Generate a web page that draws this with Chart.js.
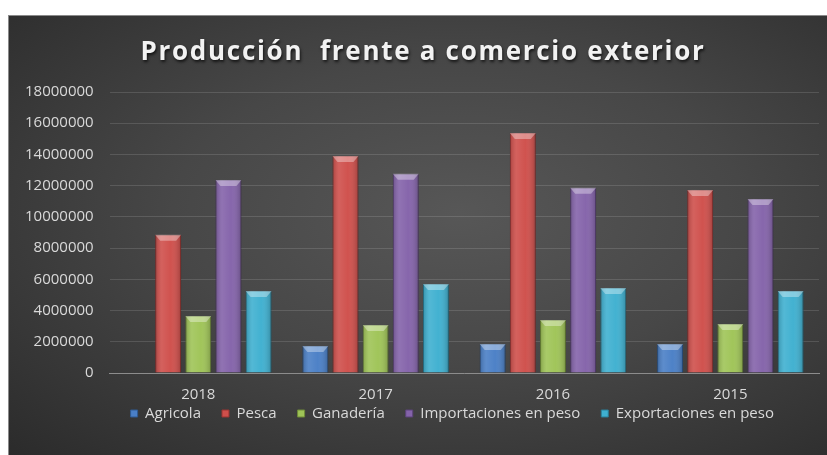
<!DOCTYPE html>
<html>
<head>
<meta charset="utf-8">
<script src="https://cdn.jsdelivr.net/npm/chart.js@4"></script>
<style>
  html, body { margin: 0; padding: 0; background: #ffffff; }
  #box {
    position: absolute; left: 8px; top: 15px; width: 819px; height: 440px;
    background: radial-gradient(ellipse at 55% 45%, #575757 0%, #474747 45%, #2b2b2b 100%);
    border-top: 1px solid #8a8a8a; border-left: 1px solid #8a8a8a;
    box-sizing: border-box;
  }
</style>
</head>
<body>
<div id="box"><canvas id="myChart"></canvas></div>
<script>
const years = ['2018', '2017', '2016', '2015'];
const agricola = [0, 1730000, 1860000, 1860000];
const pesca = [8850000, 13900000, 15380000, 11730000];
const ganaderia = [3650000, 3080000, 3400000, 3140000];
const importaciones = [12370000, 12760000, 11860000, 11150000];
const exportaciones = [5260000, 5700000, 5450000, 5260000];
const yTicks = [0, 2000000, 4000000, 6000000, 8000000, 10000000, 12000000, 14000000, 16000000, 18000000];
const titulo = 'Producción  frente a comercio exterior';

let myChart = document.getElementById('myChart').getContext('2d');

function serie(label, data, color, border) {
    return {
        label: label,
        data: data,
        backgroundColor: color,
        borderColor: border,
        borderWidth: 1,
        categoryPercentage: 0.85,
        barPercentage: 0.86
    };
}

// title drawn by hand: spaced letters and a soft shadow
const tituloPlugin = {
    id: 'tituloPlugin',
    afterDraw(chart) {
        const ctx = chart.ctx;
        ctx.save();
        ctx.font = 'bold 26px "Open Sans"';
        ctx.letterSpacing = '1.7px';
        ctx.fillStyle = '#f2f2f2';
        ctx.textAlign = 'center';
        ctx.textBaseline = 'alphabetic';
        ctx.shadowColor = 'rgba(0,0,0,0.7)';
        ctx.shadowOffsetX = 1;
        ctx.shadowOffsetY = 2;
        ctx.shadowBlur = 3;
        ctx.fillText(titulo, chart.width / 2 + 5, 44);
        ctx.restore();
    }
};

// light bevel over each bar, taken from the bar elements
const bevelPlugin = {
    id: 'bevelPlugin',
    afterDatasetsDraw(chart) {
        const ctx = chart.ctx;
        chart.data.datasets.forEach((ds, i) => {
            chart.getDatasetMeta(i).data.forEach(bar => {
                const h = bar.base - bar.y;
                if (h < 2) return;
                const l = bar.x - bar.width / 2, r = bar.x + bar.width / 2;
                const g = ctx.createLinearGradient(l, 0, r, 0);
                g.addColorStop(0, 'rgba(0,0,0,0.18)');
                g.addColorStop(0.25, 'rgba(255,255,255,0.10)');
                g.addColorStop(0.6, 'rgba(255,255,255,0.02)');
                g.addColorStop(1, 'rgba(0,0,0,0.22)');
                ctx.save();
                ctx.fillStyle = g;
                ctx.fillRect(l, bar.y, bar.width, h);
                const cap = Math.min(6, h / 2);
                ctx.fillStyle = 'rgba(255,255,255,0.35)';
                ctx.beginPath();
                ctx.moveTo(l, bar.y);
                ctx.lineTo(r, bar.y);
                ctx.lineTo(r - 5, bar.y + cap);
                ctx.lineTo(l + 5, bar.y + cap);
                ctx.closePath();
                ctx.fill();
                ctx.restore();
            });
        });
    }
};

let newChart = new Chart(myChart, {
    type: 'bar',
    data: {
        labels: years,
        datasets: [
            serie('Agricola', agricola, '#4a7fc6', '#2f5a92'),
            serie('Pesca', pesca, '#cf4f4b', '#9a3432'),
            serie('Ganadería', ganaderia, '#9fc457', '#6f8c39'),
            serie('Importaciones en peso', importaciones, '#8463aa', '#5c437a'),
            serie('Exportaciones en peso', exportaciones, '#3fb0d0', '#2a7f98')
        ]
    },
    plugins: [tituloPlugin, bevelPlugin],
    options: {
        responsive: true,
        maintainAspectRatio: false,
        animation: false,
        layout: {
            padding: { top: 76, right: 8, bottom: 24, left: 0 }
        },
        scales: {
            x: {
                grid: { display: false },
                border: { color: '#8c8c8c', width: 1 },
                ticks: { color: '#d9d9d9', font: { family: 'Open Sans', size: 15 }, padding: 5 },
                afterFit: axis => {
                    axis.height -= 24;
                    // labels sit close to the legend, so do not clip them to the axis box
                    axis._computeLabelArea = () => undefined;
                }
            },
            y: {
                min: 0,
                max: 18000000,
                afterBuildTicks: axis => { axis.ticks = yTicks.map(v => ({ value: v })); },
                grid: { color: 'rgba(255,255,255,0.13)', drawTicks: false },
                border: { display: false },
                ticks: {
                    color: '#d9d9d9',
                    font: { family: 'Open Sans', size: 15 },
                    padding: 16,
                    callback: v => String(v)
                }
            }
        },
        plugins: {
            legend: {
                position: 'bottom',
                fullSize: false,
                align: 'start',
                labels: {
                    color: '#d9d9d9',
                    boxWidth: 7,
                    boxHeight: 7,
                    padding: 21,
                    font: { family: 'Open Sans', size: 15 }
                }
            },
            title: { display: false },
            tooltip: { enabled: false }
        }
    }
});
</script>
</body>
</html>
